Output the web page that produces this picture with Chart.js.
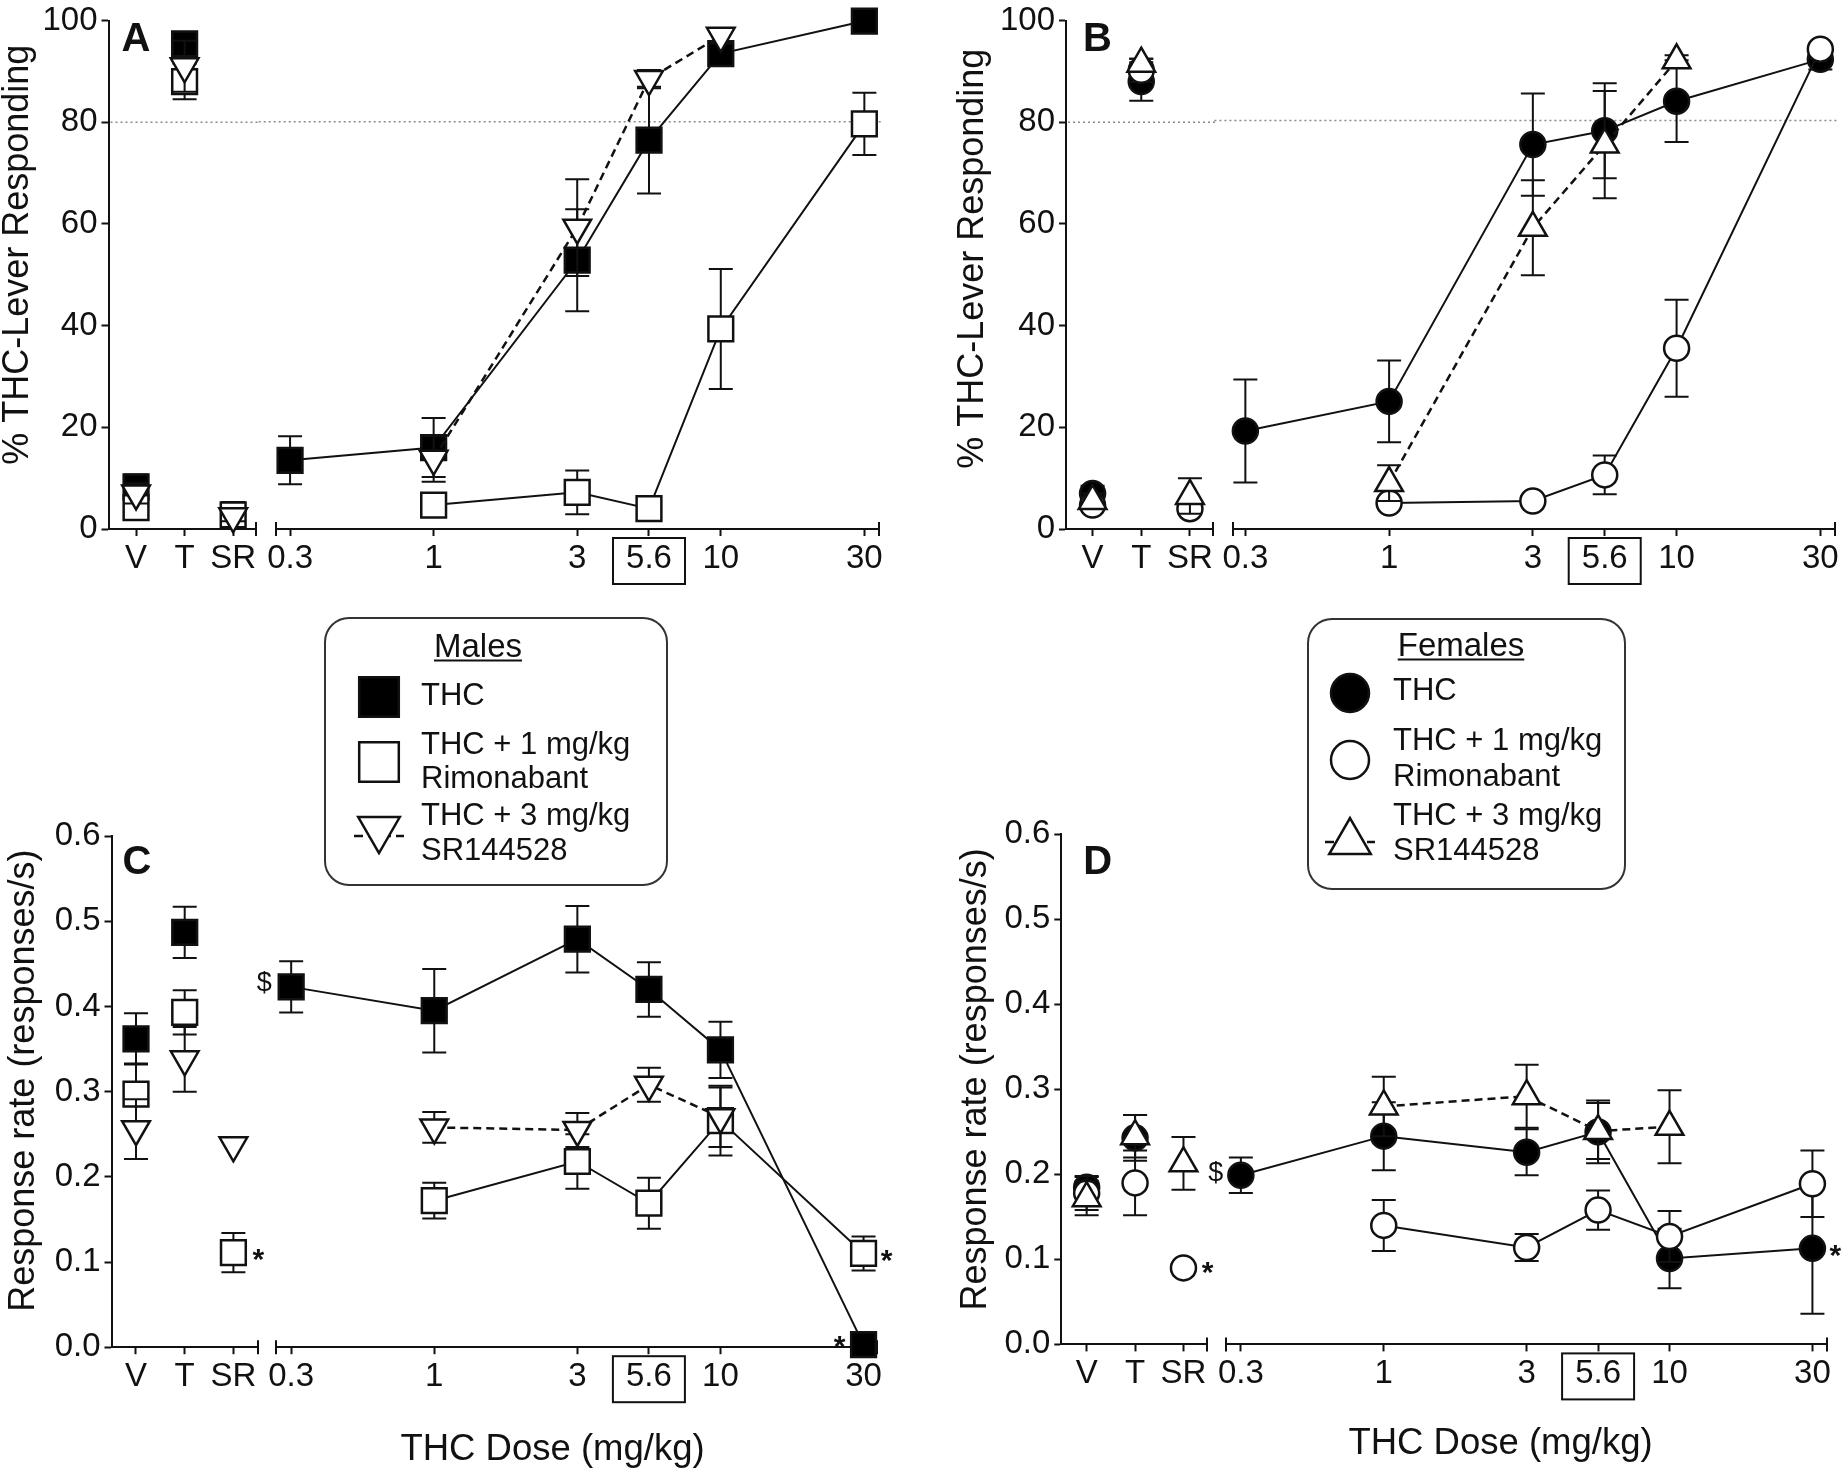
<!DOCTYPE html>
<html>
<head>
<meta charset="utf-8">
<style>
  html, body { margin: 0; padding: 0; background: #fff; }
  #fig { position: relative; width: 1843px; height: 1471px; overflow: hidden; background: #fff; }
  #fig canvas { position: absolute; }
</style>
<script src="https://cdn.jsdelivr.net/npm/chart.js@4.4.1/dist/chart.umd.min.js"></script>
</head>
<body>
<div id="fig"></div>
<script>
const FONT = "'Liberation Sans', Arial, Helvetica, sans-serif";
const INK = '#111';

// x categories
const ctrlLabels = ['V', 'T', 'SR'];
const ctrlX = [0, 1, 2];
const doseLabels = ['0.3', '1', '3', '5.6', '10', '30'];
const doseX = [-0.5, 0, 0.5, 0.75, 1, 1.5]; // log10 dose on the half-log grid

// A - males, % THC-lever responding
const maleThcCtrlPct = [8.3, 95.4, null];
const maleThcCtrlPctErr = [2.4, 1.5, null];
const maleRimCtrlPct = [4.2, 88, 2.8];
const maleRimCtrlPctErr = [2, 3.5, 2.5];
const maleSrCtrlPct = [7, 91, 2.5];
const maleSrCtrlPctErr = [2, 5, 1];
const maleThcPct = [13.5, 16, 52.8, 76.4, 93.4, 99.8];
const maleThcPctErr = [4.7, 5.8, 10, 10.5, 1.5, 0.5];
const maleRimPct = [null, 4.7, 7.2, 4, 39.3, 79.6];
const maleRimPctErr = [null, 1, 4.3, 1, 11.8, 6.1];
const maleSrPct = [null, 13.8, 59.2, 88.4, 96.9, null];
const maleSrPctErr = [null, 4.5, 9.5, 1.8, 1.5, null];

// B - females, % THC-lever responding
const femThcCtrlPct = [7, 88, null];
const femThcCtrlPctErr = [1.5, 3.8, null];
const femRimCtrlPct = [4.7, 90.2, 4];
const femRimCtrlPctErr = [1, 2.3, 1];
const femSrCtrlPct = [5.5, 91.5, 6.5];
const femSrCtrlPctErr = [1.5, 1, 3.5];
const femThcPct = [19.2, 25, 75.3, 78, 83.8, 92];
const femThcPctErr = [10.1, 8, 10, 9.3, 8, 2];
const femRimPct = [null, 5.1, 5.5, 10.6, 35.4, 94];
const femRimPctErr = [null, 1, 1, 3.8, 9.5, 1];
const femSrPct = [null, 9, 59, 75.3, 91.8, null];
const femSrPctErr = [null, 3.5, 9.3, 10.5, 1, null];

// C - males, response rate (responses/s)
const maleThcCtrlRate = [0.362, 0.487, null];
const maleThcCtrlRateErr = [0.03, 0.03, null];
const maleRimCtrlRate = [0.297, 0.393, 0.111];
const maleRimCtrlRateErr = [0.036, 0.026, 0.023];
const maleSrCtrlRate = [0.256, 0.338, 0.237];
const maleSrCtrlRateErr = [0.035, 0.038, null];
const maleThcRate = [0.423, 0.395, 0.479, 0.42, 0.349, 0.003];
const maleThcRateErr = [0.03, 0.049, 0.039, 0.032, 0.033, null];
const maleRimRate = [null, 0.172, 0.218, 0.169, 0.266, 0.11];
const maleRimRateErr = [null, 0.021, 0.032, 0.03, 0.041, 0.02];
const maleSrRate = [null, 0.258, 0.255, 0.308, 0.27, null];
const maleSrRateErr = [null, 0.018, 0.02, 0.02, 0.035, null];

// D - females, response rate (responses/s)
const femThcCtrlRate = [0.185, 0.243, null];
const femThcCtrlRateErr = [0.012, 0.027, null];
const femRimCtrlRate = [0.178, 0.19, 0.09];
const femRimCtrlRateErr = [0.02, 0.038, null];
const femSrCtrlRate = [0.172, 0.245, 0.213];
const femSrCtrlRateErr = [0.02, 0.025, 0.031];
const femThcRate = [0.199, 0.245, 0.226, 0.25, 0.101, 0.113];
const femThcRateErr = [0.021, 0.04, 0.027, 0.037, 0.035, 0.077];
const femRimRate = [null, 0.14, 0.114, 0.158, 0.127, 0.189];
const femRimRateErr = [null, 0.03, 0.016, 0.023, 0.03, 0.039];
const femSrRate = [null, 0.28, 0.292, 0.251, 0.256, null];
const femSrRateErr = [null, 0.035, 0.037, 0.033, 0.043, null];

const fig = document.getElementById('fig');

const MARK = {
  fsq:  { pointStyle: 'rect', r: 17.5, fill: '#000', rot: 0 },
  osq:  { pointStyle: 'rect', r: 17.5, fill: '#fff', rot: 0 },
  dtri: { pointStyle: 'triangle', r: 16, fill: '#fff', rot: 180 },
  fci:  { pointStyle: 'circle', r: 12.5, fill: '#000', rot: 0 },
  oci:  { pointStyle: 'circle', r: 12.5, fill: '#fff', rot: 0 },
  utri: { pointStyle: 'triangle', r: 16, fill: '#fff', rot: 0 }
};

function pts(xs, ys, es) {
  const out = [];
  ys.forEach((y, i) => { if (y != null) out.push({ x: xs[i], y: y, e: es[i] }); });
  return out;
}

function dataset(s, xs, vals, errs, line) {
  const m = MARK[s.mark];
  return {
    label: s.label,
    data: pts(xs, vals, errs),
    showLine: line,
    borderColor: INK,
    borderWidth: s.dashed ? 2.5 : 2,
    borderDash: s.dashed ? [8, 5] : [],
    pointStyle: m.pointStyle,
    pointRadius: m.r,
    pointRotation: m.rot,
    pointBackgroundColor: m.fill,
    pointBorderColor: INK,
    pointBorderWidth: 2.5,
    tension: 0,
    fill: false,
    clip: false,
    order: s.order
  };
}

// small drawing helpers for the plugin
function txt(ctx, s, x, y, font, align, base) {
  ctx.font = font;
  ctx.fillStyle = INK;
  ctx.textAlign = align || 'center';
  ctx.textBaseline = base || 'middle';
  ctx.fillText(s, x, y);
}

function marker(ctx, style, x, y, r, fill, rot) {
  ctx.save();
  ctx.fillStyle = fill;
  ctx.strokeStyle = INK;
  ctx.lineWidth = 2.5;
  ctx.beginPath();
  if (style === 'rect') {
    const h = r * Math.SQRT1_2;
    ctx.rect(x - h, y - h, 2 * h, 2 * h);
  } else if (style === 'circle') {
    ctx.arc(x, y, r, 0, Math.PI * 2);
  } else {
    let a = (rot || 0) * Math.PI / 180;
    ctx.moveTo(x + Math.sin(a) * r, y - Math.cos(a) * r);
    a += Math.PI * 2 / 3;
    ctx.lineTo(x + Math.sin(a) * r, y - Math.cos(a) * r);
    a += Math.PI * 2 / 3;
    ctx.lineTo(x + Math.sin(a) * r, y - Math.cos(a) * r);
    ctx.closePath();
  }
  ctx.fill();
  ctx.stroke();
  ctx.restore();
}

function roundRect(ctx, x, y, w, h, r) {
  ctx.beginPath();
  ctx.moveTo(x + r, y);
  ctx.arcTo(x + w, y, x + w, y + h, r);
  ctx.arcTo(x + w, y + h, x, y + h, r);
  ctx.arcTo(x, y + h, x, y, r);
  ctx.arcTo(x, y, x + w, y, r);
  ctx.closePath();
}

const deco = {
  id: 'deco',
  beforeDatasetsDraw(chart) {
    const o = chart.canvas.deco;
    if (o.refLine == null) return;
    const { ctx, chartArea: a } = chart;
    const y = chart.scales.y.getPixelForValue(o.refLine);
    ctx.save();
    ctx.strokeStyle = '#8a8a8a';
    ctx.lineWidth = 1.5;
    ctx.setLineDash([2, 3]);
    ctx.beginPath();
    ctx.moveTo(a.left - (o.refExt || 0) + 2, y);
    ctx.lineTo(a.right + 4, y);
    ctx.stroke();
    ctx.restore();
  },
  beforeDatasetDraw(chart, args) {
    const ds = chart.data.datasets[args.index];
    const ys = chart.scales.y;
    const ctx = chart.ctx;
    ctx.save();
    ctx.strokeStyle = INK;
    ctx.lineWidth = 2;
    ctx.setLineDash([]);
    args.meta.data.forEach((p, i) => {
      const d = ds.data[i];
      if (d.e == null) return;
      const y1 = ys.getPixelForValue(d.y + d.e);
      const y2 = ys.getPixelForValue(d.y - d.e);
      ctx.beginPath();
      ctx.moveTo(p.x, y1); ctx.lineTo(p.x, y2);
      ctx.moveTo(p.x - 12, y1); ctx.lineTo(p.x + 12, y1);
      ctx.moveTo(p.x - 12, y2); ctx.lineTo(p.x + 12, y2);
      ctx.stroke();
    });
    ctx.restore();
  },
  afterDraw(chart) {
    const o = chart.canvas.deco;
    const { ctx, chartArea: a } = chart;
    ctx.save();
    // broken-axis end caps
    ctx.strokeStyle = INK;
    ctx.lineWidth = 2;
    ctx.beginPath();
    (o.caps || []).forEach(side => {
      const x = side === 'left' ? a.left : a.right;
      ctx.moveTo(x, a.bottom - 7); ctx.lineTo(x, a.bottom + 7);
    });
    ctx.stroke();
    // box round the training-dose tick label
    if (o.boxTick != null) {
      const x = chart.scales.x.getPixelForValue(o.boxTick);
      ctx.lineWidth = 2;
      ctx.strokeRect(x - 36, a.bottom + 9, 72, 46);
    }
    if (o.letter) {
      txt(ctx, o.letter.text, a.left + o.letter.dx, a.top + o.letter.dy,
        'bold 40px ' + FONT, 'left', 'alphabetic');
    }
    if (o.yTitle) {
      ctx.save();
      ctx.translate(18, (a.top + a.bottom) / 2 + o.yTitle.shift);
      ctx.rotate(-Math.PI / 2);
      txt(ctx, o.yTitle.text, 0, 0, '36px ' + FONT);
      ctx.restore();
    }
    if (o.xTitle) {
      txt(ctx, o.xTitle.text, (a.left + a.right) / 2 + o.xTitle.dx, a.bottom + o.xTitle.dy, '36.5px ' + FONT);
    }
    (o.marks || []).forEach(m => {
      const ds = chart.data.datasets[m.series];
      const i = ds.data.findIndex(d => d.x === m.x);
      const p = chart.getDatasetMeta(m.series).data[i];
      if (!p) return;
      const f = m.text === '*' ? 'bold 30px ' : '27px ';
      txt(ctx, m.text, p.x + m.dx, p.y + m.dy, f + FONT);
    });
    if (o.legend) drawLegend(ctx, o.legend, o.origin);
    ctx.restore();
  }
};

function drawLegend(ctx, L, org) {
  const ox = org[0], oy = org[1];
  ctx.save();
  ctx.strokeStyle = '#333';
  ctx.lineWidth = 2;
  roundRect(ctx, L.box[0] - ox, L.box[1] - oy, L.box[2] - L.box[0], L.box[3] - L.box[1], 24);
  ctx.fillStyle = '#fff';
  ctx.fill();
  ctx.stroke();
  // underlined heading
  const tx = L.title[1] - ox, ty = L.title[2] - oy;
  ctx.font = '33px ' + FONT;
  const w = ctx.measureText(L.title[0]).width;
  txt(ctx, L.title[0], tx, ty, '33px ' + FONT, 'center', 'alphabetic');
  ctx.strokeStyle = INK;
  ctx.beginPath();
  ctx.moveTo(tx - w / 2, ty + 3.5); ctx.lineTo(tx + w / 2, ty + 3.5);
  ctx.stroke();
  L.items.forEach(it => {
    const mx = L.markX - ox, my = it.my - oy;
    const m = MARK[it.mark];
    if (it.dashed) {
      ctx.save();
      ctx.strokeStyle = INK;
      ctx.lineWidth = 2.5;
      ctx.setLineDash([9, 5]);
      ctx.beginPath();
      ctx.moveTo(mx - 25, my + it.lineDy); ctx.lineTo(mx + 25, my + it.lineDy);
      ctx.stroke();
      ctx.restore();
    }
    marker(ctx, m.pointStyle, mx, my, it.r, m.fill, m.rot);
    it.lines.forEach((s, k) => txt(ctx, s, L.textX - ox, it.ty[k] - oy, '31px ' + FONT, 'left', 'middle'));
  });
  ctx.restore();
}

function addCanvas(left, top, w, h) {
  const c = document.createElement('canvas');
  c.width = Math.round(w);
  c.height = Math.round(h);
  c.style.left = Math.round(left) + 'px';
  c.style.top = Math.round(top) + 'px';
  c.style.width = c.width + 'px';
  c.style.height = c.height + 'px';
  fig.appendChild(c);
  return c;
}

function xScale(vals, labels, range, h) {
  return {
    type: 'linear',
    min: range[0],
    max: range[1],
    afterBuildTicks: s => { s.ticks = vals.map(v => ({ value: v })); },
    afterFit: s => { s.height = h; },
    ticks: {
      autoSkip: false, maxRotation: 0, minRotation: 0, padding: 3, color: INK,
      font: { family: FONT, size: 33 },
      callback: (v, i) => labels[i]
    },
    grid: { display: true, drawOnChartArea: false, drawTicks: true, tickLength: 7, tickColor: INK, tickWidth: 2 },
    border: { display: true, color: INK, width: 2 }
  };
}

function yScale(p, show, w) {
  return {
    type: 'linear',
    display: show,
    min: p.yMin,
    max: p.yMax,
    afterFit: s => { s.width = w; },
    ticks: {
      stepSize: p.yStep, padding: 4, color: INK,
      font: { family: FONT, size: 33, lineHeight: 1 },
      callback: v => p.yFmt(v)
    },
    grid: { display: true, drawOnChartArea: false, drawTicks: true, tickLength: 7, tickColor: INK, tickWidth: 2 },
    border: { display: true, color: INK, width: 2 }
  };
}

function makeChart(canvas, datasets, p, scales, padding, decoOpts) {
  canvas.deco = decoOpts;
  return new Chart(canvas, {
    type: 'line',
    data: { datasets: datasets },
    options: {
      responsive: false,
      animation: false,
      events: [],
      layout: { padding: padding },
      scales: scales,
      plugins: { legend: { display: false }, tooltip: { enabled: false } }
    },
    plugins: [deco]
  });
}

function panel(p) {
  const top = p.canvasTop;
  const h = p.canvasBottom - top;
  const padTop = p.areaTop - top;
  const xH = p.canvasBottom - p.areaBottom;

  // control section (V, T, SR) carries the y axis
  const c1 = addCanvas(p.ctrlLeft, top, p.ctrlRight - p.ctrlLeft + 40, h);
  makeChart(c1,
    p.series.map(s => dataset(s, ctrlX, s.ctrl, s.ctrlErr, false)),
    p,
    { x: xScale(ctrlX, ctrlLabels, p.ctrlRange, xH), y: yScale(p, true, p.axisX - p.ctrlLeft) },
    { left: 0, right: 40, top: padTop, bottom: 0 },
    {
      caps: ['right'], refLine: p.refLine, letter: p.letter,
      yTitle: { text: p.yTitle, shift: p.yTitleShift },
      marks: p.marks.filter(m => m.sec === 'ctrl'),
      origin: [p.ctrlLeft, top]
    });

  // THC dose section
  const dl = p.doseLeft - 30;
  const c2 = addCanvas(dl, top, p.doseRight - p.doseLeft + 60, h);
  makeChart(c2,
    p.series.map(s => dataset(s, doseX, s.dose, s.doseErr, true)),
    p,
    { x: xScale(doseX, doseLabels, p.doseRange, xH), y: yScale(p, false, 0) },
    { left: 30, right: 30, top: padTop, bottom: 0 },
    {
      caps: ['left', 'right'], refLine: p.refLine, refExt: p.doseLeft - p.ctrlRight,
      boxTick: 0.75, xTitle: p.xTitle,
      marks: p.marks.filter(m => m.sec === 'dose'),
      legend: p.legend,
      origin: [Math.round(dl), top]
    });
}

const pctFmt = v => String(v);
const rateFmt = v => v.toFixed(1);

const maleLegend = {
  box: [325, 618, 667, 885],
  title: ['Males', 478, 657],
  markX: 379,
  textX: 421,
  items: [
    { mark: 'fsq', r: 28, my: 697, lines: ['THC'], ty: [696] },
    { mark: 'osq', r: 28, my: 762, lines: ['THC + 1 mg/kg', 'Rimonabant'], ty: [745, 779] },
    { mark: 'dtri', r: 24, my: 829, dashed: true, lineDy: 7, lines: ['THC + 3 mg/kg', 'SR144528'], ty: [816, 851] }
  ]
};

const femaleLegend = {
  box: [1308, 619, 1625, 889],
  title: ['Females', 1461, 656],
  markX: 1350,
  textX: 1393,
  items: [
    { mark: 'fci', r: 19, my: 693, lines: ['THC'], ty: [691] },
    { mark: 'oci', r: 19, my: 760, lines: ['THC + 1 mg/kg', 'Rimonabant'], ty: [741, 777] },
    { mark: 'utri', r: 24, my: 842, dashed: true, lineDy: 0, lines: ['THC + 3 mg/kg', 'SR144528'], ty: [816, 851] }
  ]
};

const panels = [
  {
    canvasTop: 0, canvasBottom: 600, areaTop: 18, areaBottom: 529,
    ctrlLeft: 0, axisX: 108.5, ctrlRight: 256.4, doseLeft: 275.7, doseRight: 878.3,
    ctrlRange: [-0.567, 2.47], doseRange: [-0.549, 1.551],
    yMin: 0, yMax: 100, yStep: 20, yFmt: pctFmt,
    yTitle: '% THC-Lever Responding', yTitleShift: -20, refLine: 80,
    letter: { text: 'A', dx: 13, dy: 30 },
    marks: [], legend: null, xTitle: null,
    series: [
      { label: 'THC', mark: 'fsq', order: 3, ctrl: maleThcCtrlPct, ctrlErr: maleThcCtrlPctErr, dose: maleThcPct, doseErr: maleThcPctErr },
      { label: 'THC + 1 mg/kg Rimonabant', mark: 'osq', order: 2, ctrl: maleRimCtrlPct, ctrlErr: maleRimCtrlPctErr, dose: maleRimPct, doseErr: maleRimPctErr },
      { label: 'THC + 3 mg/kg SR144528', mark: 'dtri', order: 1, dashed: true, ctrl: maleSrCtrlPct, ctrlErr: maleSrCtrlPctErr, dose: maleSrPct, doseErr: maleSrPctErr }
    ]
  },
  {
    canvasTop: 0, canvasBottom: 600, areaTop: 18, areaBottom: 529,
    ctrlLeft: 955, axisX: 1066, ctrlRight: 1212.6, doseLeft: 1233.2, doseRight: 1835.4,
    ctrlRange: [-0.546, 2.474], doseRange: [-0.543, 1.551],
    yMin: 0, yMax: 100, yStep: 20, yFmt: pctFmt,
    yTitle: '% THC-Lever Responding', yTitleShift: -16, refLine: 80,
    letter: { text: 'B', dx: 17, dy: 30 },
    marks: [], legend: null, xTitle: null,
    series: [
      { label: 'THC', mark: 'fci', order: 3, ctrl: femThcCtrlPct, ctrlErr: femThcCtrlPctErr, dose: femThcPct, doseErr: femThcPctErr },
      { label: 'THC + 1 mg/kg Rimonabant', mark: 'oci', order: 2, ctrl: femRimCtrlPct, ctrlErr: femRimCtrlPctErr, dose: femRimPct, doseErr: femRimPctErr },
      { label: 'THC + 3 mg/kg SR144528', mark: 'utri', order: 1, dashed: true, ctrl: femSrCtrlPct, ctrlErr: femSrCtrlPctErr, dose: femSrPct, doseErr: femSrPctErr }
    ]
  },
  {
    canvasTop: 600, canvasBottom: 1471, areaTop: 836.1, areaBottom: 1347.2,
    ctrlLeft: 6, axisX: 111.5, ctrlRight: 258, doseLeft: 275.7, doseRight: 877,
    ctrlRange: [-0.503, 2.505], doseRange: [-0.553, 1.547],
    yMin: 0, yMax: 0.6, yStep: 0.1, yFmt: rateFmt,
    yTitle: 'Response rate (responses/s)', yTitleShift: -11, refLine: null,
    letter: { text: 'C', dx: 11, dy: 38 },
    xTitle: { text: 'THC Dose (mg/kg)', dx: -24, dy: 103 },
    legend: maleLegend,
    marks: [
      { sec: 'dose', series: 0, x: -0.5, text: '$', dx: -27, dy: -3 },
      { sec: 'ctrl', series: 1, x: 2, text: '*', dx: 25, dy: 8 },
      { sec: 'dose', series: 1, x: 1.5, text: '*', dx: 23, dy: 8 },
      { sec: 'dose', series: 0, x: 1.5, text: '*', dx: -24, dy: 3 }
    ],
    series: [
      { label: 'THC', mark: 'fsq', order: 3, ctrl: maleThcCtrlRate, ctrlErr: maleThcCtrlRateErr, dose: maleThcRate, doseErr: maleThcRateErr },
      { label: 'THC + 1 mg/kg Rimonabant', mark: 'osq', order: 2, ctrl: maleRimCtrlRate, ctrlErr: maleRimCtrlRateErr, dose: maleRimRate, doseErr: maleRimRateErr },
      { label: 'THC + 3 mg/kg SR144528', mark: 'dtri', order: 1, dashed: true, ctrl: maleSrCtrlRate, ctrlErr: maleSrCtrlRateErr, dose: maleSrRate, doseErr: maleSrRateErr }
    ]
  },
  {
    canvasTop: 600, canvasBottom: 1471, areaTop: 834.4, areaBottom: 1344.4,
    ctrlLeft: 958, axisX: 1061.3, ctrlRight: 1206.7, doseLeft: 1226, doseRight: 1826.6,
    ctrlRange: [-0.524, 2.486], doseRange: [-0.552, 1.551],
    yMin: 0, yMax: 0.6, yStep: 0.1, yFmt: rateFmt,
    yTitle: 'Response rate (responses/s)', yTitleShift: -10, refLine: null,
    letter: { text: 'D', dx: 22, dy: 40 },
    xTitle: { text: 'THC Dose (mg/kg)', dx: -26, dy: 100 },
    legend: femaleLegend,
    marks: [
      { sec: 'dose', series: 0, x: -0.5, text: '$', dx: -25, dy: -2 },
      { sec: 'ctrl', series: 1, x: 2, text: '*', dx: 24, dy: 6 },
      { sec: 'dose', series: 0, x: 1.5, text: '*', dx: 23, dy: 8 }
    ],
    series: [
      { label: 'THC', mark: 'fci', order: 3, ctrl: femThcCtrlRate, ctrlErr: femThcCtrlRateErr, dose: femThcRate, doseErr: femThcRateErr },
      { label: 'THC + 1 mg/kg Rimonabant', mark: 'oci', order: 2, ctrl: femRimCtrlRate, ctrlErr: femRimCtrlRateErr, dose: femRimRate, doseErr: femRimRateErr },
      { label: 'THC + 3 mg/kg SR144528', mark: 'utri', order: 1, dashed: true, ctrl: femSrCtrlRate, ctrlErr: femSrCtrlRateErr, dose: femSrRate, doseErr: femSrRateErr }
    ]
  }
];

panels.forEach(panel);
</script>
</body>
</html>
